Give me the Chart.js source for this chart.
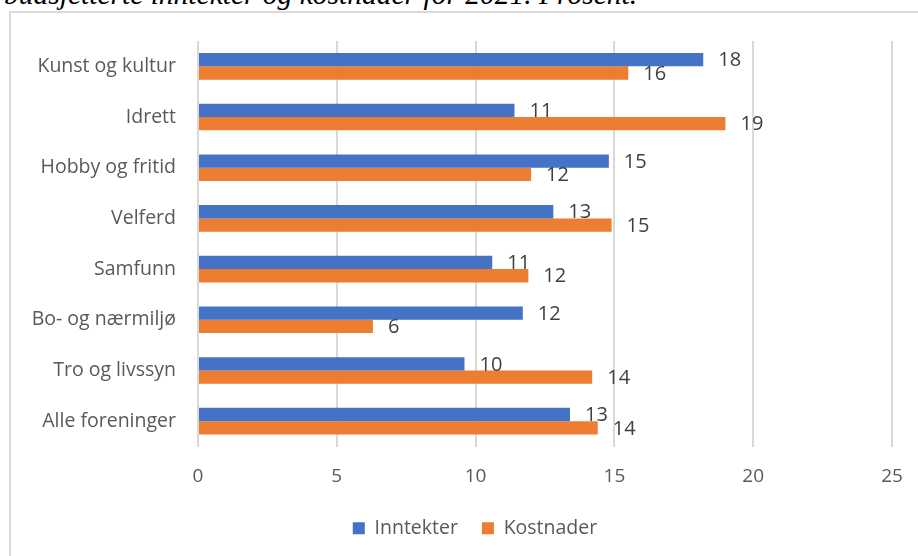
<!DOCTYPE html>
<html>
<head>
<meta charset="utf-8">
<script src="https://cdn.jsdelivr.net/npm/chart.js@4"></script>
<style>
    html, body { margin: 0; padding: 0; background: #fff; overflow: hidden; }
    #wrap { position: relative; width: 918px; height: 556px; }
    #title {
        position: absolute; left: 4px; top: -20px; white-space: nowrap;
        font: italic 29.5px 'Liberation Serif', 'Times New Roman', serif; line-height: 1; color: #000;
    }
    #frame {
        position: absolute; left: 9px; top: 11px; width: 1000px; height: 600px;
        border-top: 2px solid #d9d9d9; border-left: 2px solid #d9d9d9;
    }
    canvas { position: absolute; left: 0; top: 0; }
</style>
</head>
<body>
<div id="wrap">
    <div id="title">budsjetterte inntekter og kostnader for 2021. Prosent.</div>
    <div id="frame"></div>
    <canvas id="chart" width="918" height="556"></canvas>
</div>
<script>
const FONT = "'Open Sans', 'Noto Sans', sans-serif";
const GREY = '#595959';

const categories = ['Kunst og kultur', 'Idrett', 'Hobby og fritid', 'Velferd', 'Samfunn', 'Bo- og nærmiljø', 'Tro og livssyn', 'Alle foreninger'];
const inntekter = [18.2, 11.4, 14.8, 12.8, 10.6, 11.7, 9.6, 13.4];
const kostnader = [15.5, 19.0, 12.0, 14.9, 11.9, 6.3, 14.2, 14.4];
const xTicks = [0, 5, 10, 15, 20, 25];

// value labels at the end of each bar, rounded like the source
const barLabels = {
    id: 'barLabels',
    afterDatasetsDraw(chart) {
        const { ctx } = chart;
        ctx.save();
        ctx.font = `20px ${FONT}`;
        ctx.fillStyle = '#404040';
        ctx.textAlign = 'left';
        ctx.textBaseline = 'middle';
        chart.data.datasets.forEach((ds, di) => {
            chart.getDatasetMeta(di).data.forEach((el, i) => {
                ctx.fillText(Math.round(ds.data[i]), el.x + 15, el.y + 1);
            });
        });
        ctx.restore();
    }
};

// the source legend sits a bit right of the canvas centre
const legendShift = {
    id: 'legendShift',
    afterLayout(chart) {
        chart.legend.left += 29;
        chart.legend.right += 29;
    }
};

new Chart(document.getElementById('chart'), {
    type: 'bar',
    data: {
        labels: categories,
        datasets: [
            { label: 'Inntekter', data: inntekter, backgroundColor: '#4472c4' },
            { label: 'Kostnader', data: kostnader, backgroundColor: '#ed7d31' }
        ]
    },
    options: {
        indexAxis: 'y',
        responsive: false,
        animation: false,
        categoryPercentage: 0.525,
        barPercentage: 1,
        layout: { padding: { top: 41, right: 26, bottom: 8, left: 0 } },
        plugins: {
            legend: {
                position: 'bottom',
                labels: {
                    boxWidth: 12, boxHeight: 12, padding: 24,
                    color: GREY, font: { family: FONT, size: 19.5 }
                }
            },
            tooltip: { enabled: false }
        },
        scales: {
            x: {
                min: 0, max: 25,
                afterBuildTicks: s => { s.ticks = xTicks.map(v => ({ value: v })); },
                // invisible tick marks give the gap under the plot, so the tick padding stays 0
                grid: { color: '#d9d9d9', lineWidth: 2, drawTicks: true, tickLength: 19, tickColor: 'rgba(0,0,0,0)' },
                border: { display: false },
                ticks: { color: GREY, font: { family: FONT, size: 19 }, padding: 0 },
                afterFit: s => { s.height = 48; }
            },
            y: {
                grid: { display: false, drawTicks: false },
                border: { display: false },
                ticks: { color: GREY, font: { family: FONT, size: 19.5 }, padding: 22 },
                afterFit: s => { s.width = 198; }
            }
        }
    },
    plugins: [barLabels, legendShift]
});
</script>
</body>
</html>
